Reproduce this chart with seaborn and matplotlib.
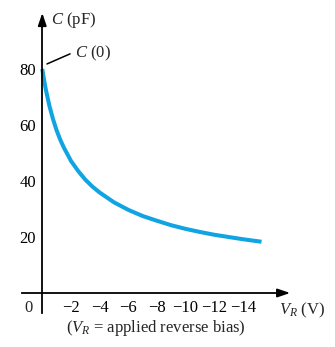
import matplotlib
matplotlib.use("Agg")
import matplotlib.pyplot as plt
import seaborn as sns
import pandas as pd

# Data (reverse bias magnitude in V, capacitance in pF)
v_bias = [0, 0.1, 0.25, 0.5, 0.75, 1, 1.25, 1.5, 2, 2.5, 3, 3.5, 4, 5, 6, 7, 8,
          9, 10, 11, 12, 13, 14, 15.3]
cap_pf = [80, 76.8, 72.6, 66.8, 62.1, 58.1, 54.8, 52.0, 47.2, 43.6, 40.5, 38.0,
          35.9, 32.4, 29.7, 27.5, 25.8, 24.2, 22.9, 21.8, 20.8, 20.0, 19.2, 18.3]
x_ticks = [-2, -4, -6, -8, -10, -12, -14]
y_ticks = [20, 40, 60, 80]

sns.set_style("white")
plt.rcParams['font.family'] = ['Liberation Serif', 'DejaVu Serif']
plt.rcParams['mathtext.fontset'] = 'custom'
plt.rcParams['mathtext.it'] = 'Liberation Serif:italic'
plt.rcParams['mathtext.rm'] = 'Liberation Serif'

df = pd.DataFrame({"V": [-v for v in v_bias], "C": cap_pf})

fig = plt.figure(figsize=(3.35, 3.47), dpi=100)
ax = fig.add_axes([0, 0, 1, 1])
ax.set_facecolor('none')

sns.lineplot(data=df, x="V", y="C", ax=ax, color='#10a4e2', linewidth=2.9,
             solid_capstyle='butt')

ax.set_xlim(2.95, -20.43)
ax.set_ylim(-19.29, 104.64)

for s in ['top', 'right']:
    ax.spines[s].set_visible(False)
ax.spines['left'].set_position(('data', 0))
ax.spines['bottom'].set_position(('data', 0))
ax.spines['left'].set_bounds(-7.1, 97)
ax.spines['bottom'].set_bounds(1.42, -16.8)
for s in ['left', 'bottom']:
    ax.spines[s].set_linewidth(1.3)
    ax.spines[s].set_color('black')

ax.set_xticks(x_ticks)
ax.set_yticks(y_ticks)
ax.set_xticklabels([f"\u2212{abs(t)}" for t in x_ticks])
ax.tick_params(axis='x', direction='in', length=8.5, width=1.2, pad=5,
               labelsize=12, colors='black')
ax.tick_params(axis='y', direction='in', length=8, width=1.2, pad=4.5,
               labelsize=12, colors='black')
ax.set_xlabel('')
ax.set_ylabel('')
ax.grid(False)

arrow = dict(arrowstyle='-|>,head_length=0.5,head_width=0.17', mutation_scale=15,
             color='black', lw=1.3, shrinkA=0, shrinkB=0)
ax.annotate('', xy=(0, 100), xytext=(0, 95), arrowprops=arrow)
ax.annotate('', xy=(-17.3, 0), xytext=(-16.5, 0), arrowprops=arrow)

ax.text(-0.6, 97.6, r'$C$ (pF)', fontsize=12, ha='left', va='center')
ax.text(-2.3, 85.7, r'$C$ (0)', fontsize=12, ha='left', va='center')
ax.plot([-0.33, -1.94], [81.8, 85.4], color='black', lw=1.1)
ax.text(0.93, -2.6, '0', fontsize=12, ha='center', va='top')
ax.text(-16.5, -6.2, r'$V_R$ (V)', fontsize=12, ha='left', va='center')
ax.text(-7.95, -12.5, r'($V_R$ = applied reverse bias)', fontsize=12,
        ha='center', va='center')

fig.savefig('out.png', dpi=100)
